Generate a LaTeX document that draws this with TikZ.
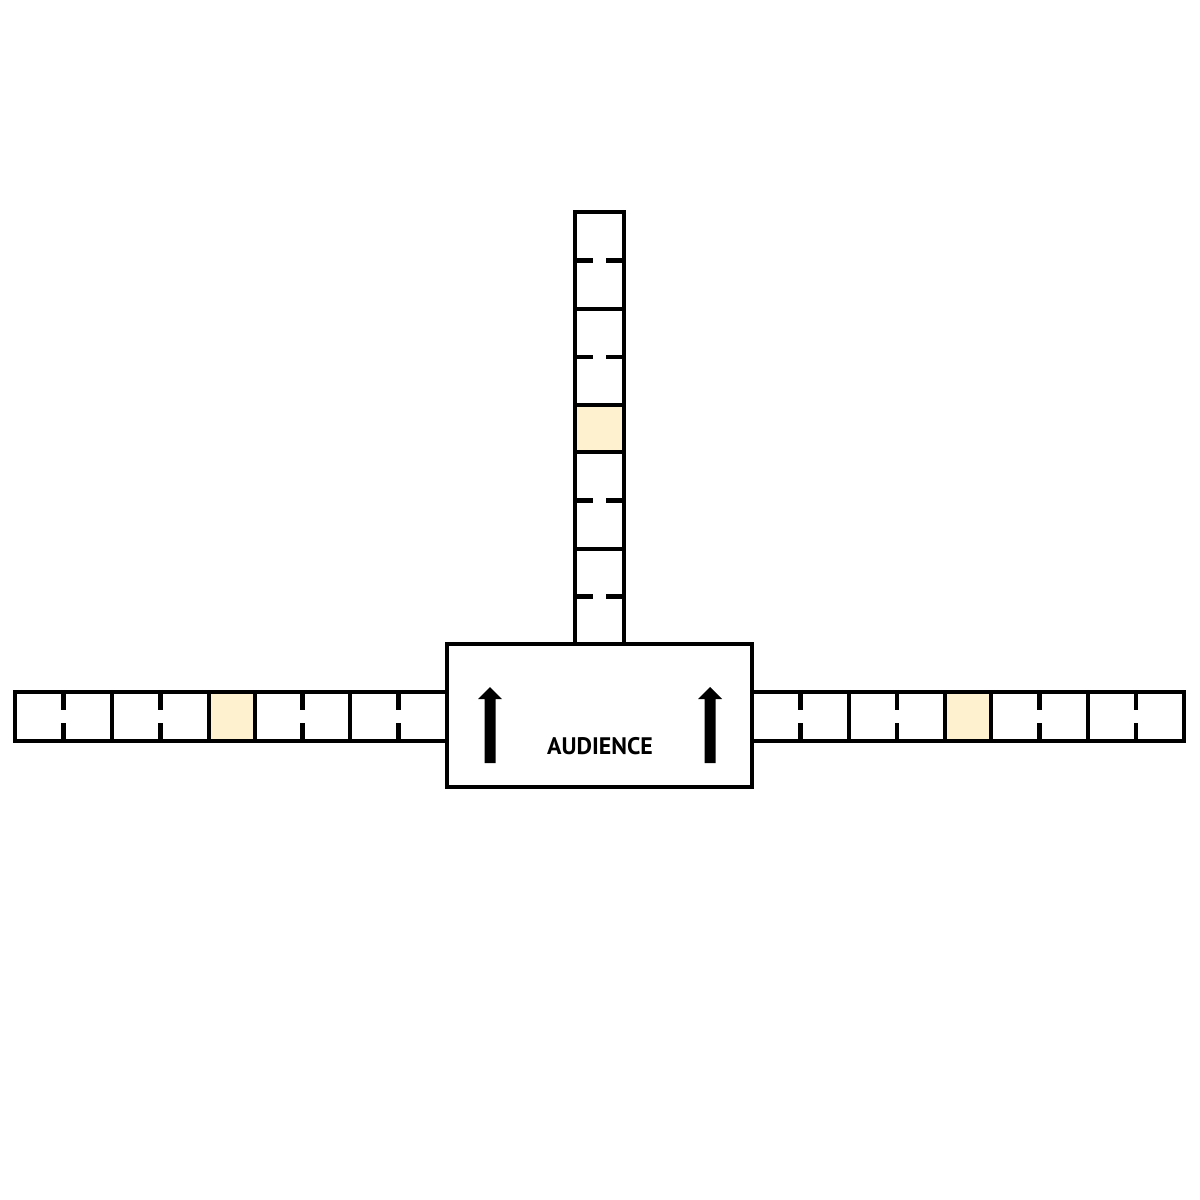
\documentclass[tikz,border=0pt]{standalone}
\usepackage{fontspec}
\setsansfont{PT Sans}
\definecolor{seatyellow}{HTML}{FDF1CF}

\begin{document}
\begin{tikzpicture}[x=0.01cm, y=-0.01cm, line width=1pt,
  cell/.style={draw, fill=white},
  seat/.style={draw, fill=seatyellow},
  tick/.style={line width=1.3pt},
  label/.style={font=\sffamily\bfseries\fontsize{6.8}{8}\selectfont}]
\useasboundingbox (0,0) rectangle (1200,1200);
% left and right rows
\foreach \a/\b in {15/112, 112/209, 255/350, 350/447, 752/849, 849/945, 991/1088, 1088/1184}
{
  \draw[cell] (\a,692) rectangle (\b,741);
  \draw[tick] ({(\a+\b)/2},692) -- ++(0,18);
  \draw[tick] ({(\a+\b)/2},741) -- ++(0,-18);
}
\foreach \a/\b in {209/255, 945/991}
  \draw[seat] (\a,692) rectangle (\b,741);
% upper row
\foreach \a/\b in {212/309, 309/405, 452/549, 549/644}
{
  \draw[cell] (575,\a) rectangle (624,\b);
  \draw[tick] (575,{(\a+\b)/2}) -- ++(18,0);
  \draw[tick] (624,{(\a+\b)/2}) -- ++(-18,0);
}
\draw[seat] (575,405) rectangle (624,452);
% stage
\node[draw, minimum width=3.05cm, minimum height=1.43cm, fill=white] (stage) at (599.5,715.5) {};
\foreach \ax in {490,710}
  \fill (\ax-5.5,763) -- (\ax-5.5,699) -- (\ax-12,699) -- (\ax,687) -- (\ax+12,699) -- (\ax+5.5,699) -- (\ax+5.5,763) -- cycle;
\node[label] (audience) at (600,746) {AUDIENCE};
\end{tikzpicture}
\end{document}
